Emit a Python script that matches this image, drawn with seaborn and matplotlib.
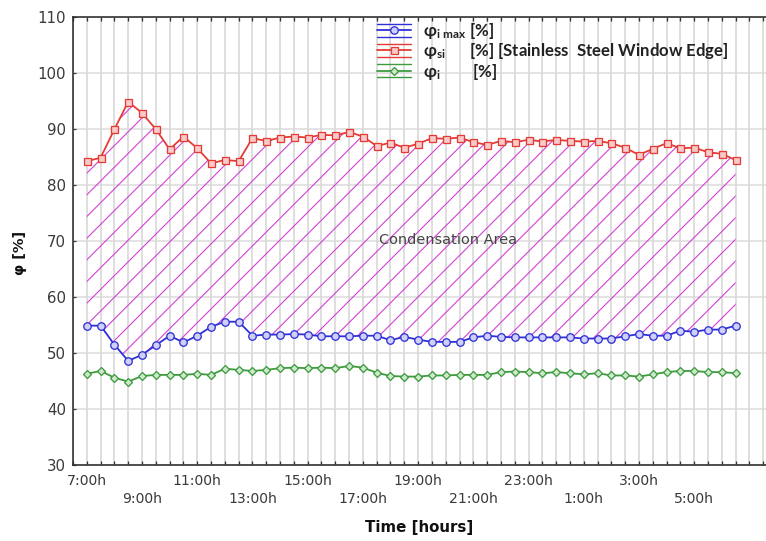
import matplotlib
matplotlib.use("Agg")
import numpy as np
import pandas as pd
import matplotlib.pyplot as plt
import seaborn as sns
from matplotlib.ticker import MultipleLocator, FixedLocator
from matplotlib.legend_handler import HandlerBase
from matplotlib.lines import Line2D

# ---------------- data (half-hourly readings from 7:00h) ----------------
phi_si = [84.3, 84.9, 90.0, 94.9, 92.9, 90.0, 86.4, 88.7, 86.6, 83.9, 84.5, 84.3,
          88.4, 87.9, 88.5, 88.7, 88.5, 89.0, 88.9, 89.5, 88.7, 87.0, 87.6, 86.7,
          87.4, 88.4, 88.3, 88.5, 87.7, 87.2, 87.9, 87.7, 88.1, 87.8, 88.1, 87.9,
          87.8, 87.9, 87.5, 86.7, 85.4, 86.5, 87.5, 86.6, 86.7, 85.9, 85.6, 84.5]
phi_imax = [54.9, 54.9, 51.5, 48.6, 49.7, 51.4, 53.1, 51.9, 53.1, 54.7, 55.6, 55.6,
            53.1, 53.3, 53.3, 53.4, 53.3, 53.0, 53.0, 53.0, 53.1, 53.1, 52.3, 52.9,
            52.4, 52.0, 52.0, 52.0, 52.8, 53.1, 52.9, 52.8, 52.8, 52.8, 52.8, 52.8,
            52.6, 52.6, 52.6, 53.0, 53.4, 53.1, 53.1, 54.0, 53.8, 54.2, 54.2, 54.9]
phi_i = [46.3, 46.8, 45.6, 44.9, 45.9, 46.1, 46.1, 46.1, 46.3, 46.1, 47.2, 47.0,
         46.8, 47.0, 47.3, 47.4, 47.3, 47.4, 47.3, 47.7, 47.4, 46.5, 45.9, 45.8,
         45.8, 46.0, 46.0, 46.1, 46.1, 46.1, 46.6, 46.7, 46.6, 46.4, 46.6, 46.4,
         46.2, 46.4, 46.0, 46.0, 45.8, 46.2, 46.6, 46.8, 46.8, 46.6, 46.6, 46.4]
hours = np.arange(len(phi_si)) * 0.5          # elapsed hours since 7:00h
tick_hours = [0, 2, 4, 6, 8, 10, 12, 14, 16, 18, 20, 22]
tick_labels = ["7:00h", "9:00h", "11:00h", "13:00h", "15:00h", "17:00h",
               "19:00h", "21:00h", "23:00h", "1:00h", "3:00h", "5:00h"]
y_ticks = [30, 40, 50, 60, 70, 80, 90, 100, 110]
legend_labels = [r"φ$_{i\ max}$ [%]",
                 r"φ$_{si}$      [%] [Stainless  Steel Window Edge]",
                 r"φ$_{i}$        [%]"]
area_label = "Condensation Area"

# ---------------- style ----------------
DPI = 130
def pt(px):
    return px * 72.0 / DPI

sns.set_style("white")
plt.rcParams["font.family"] = ["DejaVu Sans"]
plt.rcParams["mathtext.default"] = "regular"
plt.rcParams["hatch.linewidth"] = pt(1.1)
plt.rcParams["hatch.color"] = "#d23fd6"

RED, BLUE, GREEN = "#e53b35", "#2f2fd8", "#3d9b3d"
TXT = "#3a3a3a"

W, H = 766, 541
fig = plt.figure(figsize=(W / DPI, H / DPI), dpi=DPI)
ax_l, ax_t, ax_b = 73, 17.3, 465
ax = fig.add_axes([ax_l / W, 1 - ax_b / H, 1 - ax_l / W, (ax_b - ax_t) / H])

# condensation area (hatched)
ax.fill_between(hours, phi_imax, phi_si, facecolor="none", edgecolor="#d23fd6",
                hatch="//", linewidth=0, zorder=1)

common = dict(ax=ax, linewidth=pt(1.8), markeredgewidth=pt(1.3), zorder=3)
sns.lineplot(x=hours, y=phi_imax, color=BLUE, marker="o", markersize=pt(7.5),
             markerfacecolor="#cfd0f6", markeredgecolor=BLUE, **common)
sns.lineplot(x=hours, y=phi_si, color=RED, marker="s", markersize=pt(7),
             markerfacecolor="#f8caca", markeredgecolor=RED, **common)
sns.lineplot(x=hours, y=phi_i, color=GREEN, marker="D", markersize=pt(6),
             markerfacecolor="#cde8cd", markeredgecolor=GREEN, **common)

# axes limits / ticks
ax.set_xlim(-0.5, (W - 87) / 27.6)
ax.set_ylim(30, 110)
ax.set_yticks(y_ticks)
ax.xaxis.set_major_locator(FixedLocator(tick_hours))
ax.set_xticklabels([lab if i % 2 == 0 else "\n" + lab for i, lab in enumerate(tick_labels)])
for lbl in ax.get_xticklabels():
    lbl.set_linespacing(1.35)
ax.xaxis.set_minor_locator(MultipleLocator(0.5))

ax.set_axisbelow(True)
ax.grid(which="both", axis="x", color="#dedede", linewidth=pt(2.0))
ax.grid(which="major", axis="y", color="#dadada", linewidth=pt(1.5))

ax.tick_params(axis="x", which="both", direction="in", top=True, bottom=True,
               length=pt(4), width=pt(1.3), color="#333333",
               labelsize=pt(14), labelcolor=TXT, pad=pt(9))
ax.tick_params(axis="y", which="both", direction="in", left=True, length=pt(3),
               width=pt(1.2), color="#333333", labelsize=pt(15), labelcolor=TXT,
               pad=pt(7))

for side in ("left", "bottom", "top"):
    ax.spines[side].set_visible(True)
    ax.spines[side].set_color("#2b2b2b")
    ax.spines[side].set_linewidth(pt(1.6))
ax.spines["right"].set_visible(False)

ax.set_xlabel("Time [hours]", fontweight="bold", fontsize=pt(15), color="#111111")
ax.xaxis.set_label_coords(0.5, -(520 - ax_b) / (ax_b - ax_t))
ax.set_ylabel("φ [%]", fontweight="bold", fontsize=pt(14.5), color="#111111")
ax.yaxis.set_label_coords((27 - ax_l) / (W - ax_l), (ax_b - 253) / (ax_b - ax_t))

ax.text(13.08, 70.2, area_label, ha="center", va="center", fontsize=pt(14.5),
        color="#444444", zorder=4)


# legend with error-bar-like handles
class BarHandler(HandlerBase):
    def create_artists(self, legend, orig_handle, xdescent, ydescent, width,
                       height, fontsize, trans):
        c = orig_handle.get_color()
        yc = height / 2.0 - ydescent
        x0, x1 = -xdescent, width - xdescent
        off = pt(6.5)
        arts = []
        for dy in (-off, off):
            ln = Line2D([x0, x1], [yc + dy, yc + dy], color=c, lw=pt(1.4))
            ln.set_transform(trans)
            arts.append(ln)
        mid = Line2D([x0, x1], [yc, yc], color=c, lw=pt(1.8))
        mid.set_transform(trans)
        mk = Line2D([(x0 + x1) / 2.0], [yc], linestyle="none",
                    marker=orig_handle.get_marker(),
                    markersize=orig_handle.get_markersize(),
                    markerfacecolor=orig_handle.get_markerfacecolor(),
                    markeredgecolor=orig_handle.get_markeredgecolor(),
                    markeredgewidth=orig_handle.get_markeredgewidth())
        mk.set_transform(trans)
        arts += [mid, mk]
        return arts


handles = ax.lines[:3]
leg = ax.legend(handles, legend_labels, loc="upper left",
                bbox_to_anchor=(377 / W, 1 - 21 / H), bbox_transform=fig.transFigure,
                frameon=False, borderpad=0, borderaxespad=0,
                handlelength=2.0, handletextpad=0.75, labelspacing=0.02,
                handler_map={Line2D: BarHandler()},
                prop=dict(family=["Lato", "DejaVu Sans"], weight="bold", size=pt(16.8)))
for t in leg.get_texts():
    t.set_color("#222222")
leg.set_zorder(5)

fig.savefig("out.png", dpi=DPI, facecolor="white")
